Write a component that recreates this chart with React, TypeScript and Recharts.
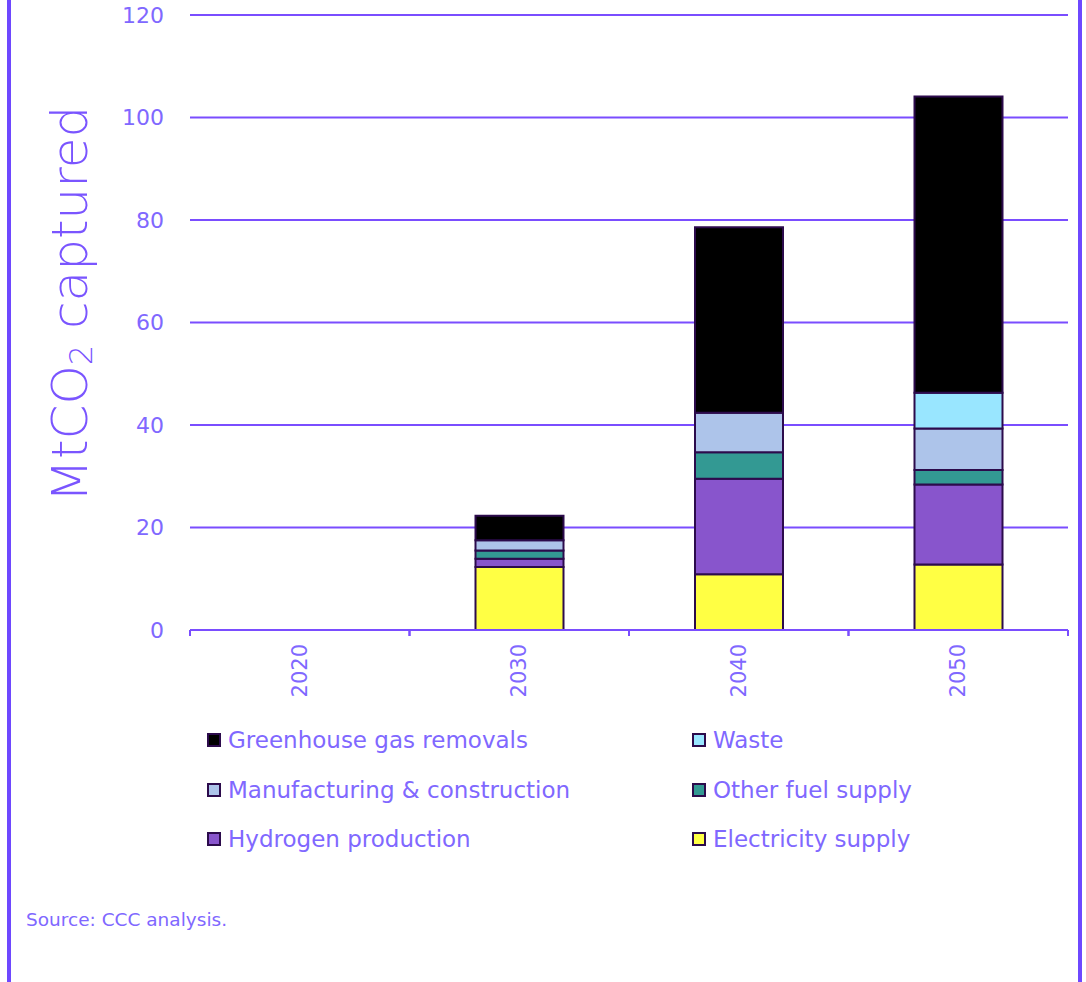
import React from 'react';
import { BarChart, Bar, XAxis, YAxis, CartesianGrid, Legend } from 'recharts';

const categories = ['2020', '2030', '2040', '2050'];
const electricity = [0, 12.3, 10.9, 12.8];
const hydrogen = [0, 1.6, 18.6, 15.6];
const otherFuel = [0, 1.6, 5.2, 2.8];
const manufacturing = [0, 2.0, 7.7, 8.1];
const waste = [0, 0, 0, 7.0];
const ggr = [0, 4.8, 36.2, 57.8];
const yTicks = [0, 20, 40, 60, 80, 100, 120];

const seriesNames = [
  'Electricity supply',
  'Hydrogen production',
  'Other fuel supply',
  'Manufacturing & construction',
  'Waste',
  'Greenhouse gas removals',
];
const seriesKeys = ['elec', 'hyd', 'fuel', 'manu', 'waste', 'ggr'];
const seriesColors = ['#FFFF44', '#8855CC', '#339993', '#ADC4EA', '#99E6FF', '#000000'];
const legendOrder = ['ggr', 'waste', 'manu', 'fuel', 'hyd', 'elec'];

const data = categories.map((c, i) => ({
  year: c,
  elec: electricity[i],
  hyd: hydrogen[i],
  fuel: otherFuel[i],
  manu: manufacturing[i],
  waste: waste[i],
  ggr: ggr[i],
}));

const FONT = '"DejaVu Sans", sans-serif';
const GRID = '#7A4DFF';
const TEXT = '#8068FF';
const STROKE = '#2C0B4C';

const XTick = (props: any) => {
  const { x, y, payload } = props;
  const off = payload.offset || 0;
  return (
    <g>
      <line x1={x - off} y1={y} x2={x - off} y2={y + 6} stroke={GRID} strokeWidth={2} />
      <line x1={x + off} y1={y} x2={x + off} y2={y + 6} stroke={GRID} strokeWidth={2} />
      <text
        x={x}
        y={y + 14}
        transform={`rotate(-90, ${x}, ${y + 14})`}
        textAnchor="end"
        dominantBaseline="central"
        fill={TEXT}
        fontSize={21}
        fontFamily={FONT}
      >
        {payload.value}
      </text>
    </g>
  );
};

const YLabel = () => (
  <text
    x={70}
    y={304}
    transform="rotate(-90, 70, 304)"
    textAnchor="middle"
    dominantBaseline="central"
    fill="#7A55FF"
    fontSize={50}
    fontFamily={FONT}
    fontWeight={300}
  >
    MtCO<tspan fontSize={32} dy={11}>2</tspan>
    <tspan dy={-11}> captured</tspan>
  </text>
);

const renderLegend = () => (
  <div style={{ position: 'relative', width: 1086, height: 150, fontFamily: FONT }}>
    {legendOrder.map((k, i) => {
      const idx = seriesKeys.indexOf(k);
      const col = i % 2;
      const row = Math.floor(i / 2);
      return (
        <div
          key={k}
          style={{
            position: 'absolute',
            left: col === 0 ? 207 : 692,
            top: row * 49.5,
            height: 24,
            display: 'flex',
            alignItems: 'center',
          }}
        >
          <div
            style={{
              width: 10,
              height: 10,
              background: seriesColors[idx],
              border: `2px solid ${STROKE}`,
              marginRight: 7,
            }}
          />
          <span style={{ color: TEXT, fontSize: 23, whiteSpace: 'nowrap' }}>{seriesNames[idx]}</span>
        </div>
      );
    })}
  </div>
);

export default function App() {
  return (
    <div style={{ position: 'absolute', left: 0, top: 0, width: 1086, height: 982, background: '#fff' }}>
      <div style={{ position: 'absolute', left: 7, top: 0, width: 4, height: 982, background: '#6E48FF' }} />
      <div style={{ position: 'absolute', left: 1078, top: 0, width: 4, height: 982, background: '#6E48FF' }} />
      <BarChart
        width={1086}
        height={982}
        data={data}
        margin={{ top: 15, right: 18, left: 0, bottom: 292 }}
        barSize={88}
      >
        <CartesianGrid vertical={false} stroke={GRID} strokeWidth={2} />
        <XAxis
          dataKey="year"
          axisLine={{ stroke: GRID, strokeWidth: 2 }}
          tickLine={false}
          tickSize={0}
          tickMargin={0}
          tick={<XTick />}
          interval={0}
          height={60}
        />
        <YAxis
          domain={[0, 120]}
          ticks={yTicks}
          axisLine={false}
          tickLine={false}
          width={190}
          tickMargin={20}
          tick={{ fill: TEXT, fontSize: 22, fontFamily: FONT }}
          label={<YLabel />}
        />
        <Legend
          content={renderLegend}
          layout="horizontal"
          verticalAlign="middle"
          wrapperStyle={{ position: 'absolute', left: 0, top: 728, width: 1086 }}
        />
        {seriesKeys.map((k, i) => (
          <Bar
            key={k}
            dataKey={k}
            name={seriesNames[i]}
            stackId="a"
            fill={seriesColors[i]}
            stroke={STROKE}
            strokeWidth={2}
            isAnimationActive={false}
          />
        ))}
      </BarChart>
      <div
        style={{
          position: 'absolute',
          left: 26,
          top: 909,
          fontFamily: FONT,
          fontSize: 18.5,
          color: TEXT,
          whiteSpace: 'nowrap',
        }}
      >
        Source: CCC analysis.
      </div>
    </div>
  );
}
